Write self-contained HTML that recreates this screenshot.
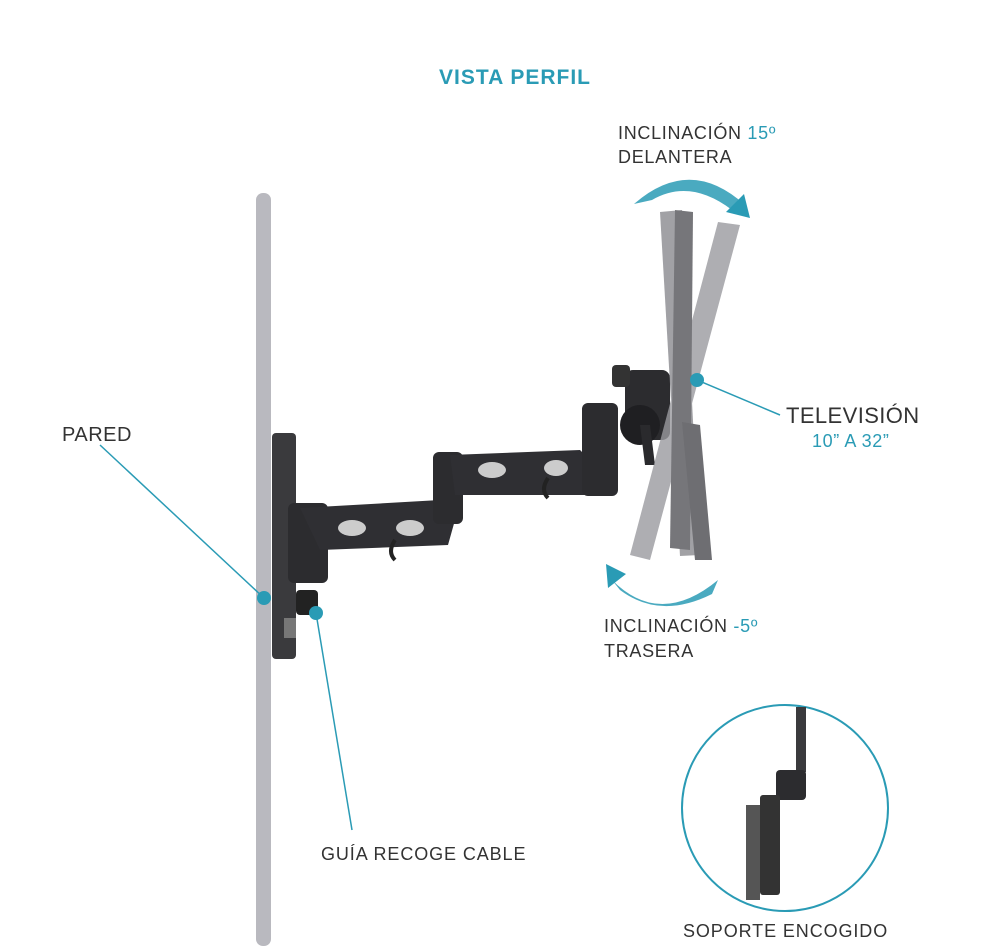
<!DOCTYPE html><html><head><style>
html,body{margin:0;padding:0;background:#fff;}
svg{display:block}
text{font-family:"Liberation Sans",sans-serif;}
</style></head><body>
<svg width="1000" height="952" viewBox="0 0 1000 952" xmlns="http://www.w3.org/2000/svg">
<text x="515" y="84" text-anchor="middle" font-size="21" font-weight="bold" letter-spacing="1" fill="#2a9bb5">VISTA PERFIL</text>
<rect x="256" y="193" width="15" height="753" rx="7" fill="#b9b9bf"/>
<rect x="272" y="433" width="24" height="226" rx="4" fill="#3a3a3d"/>
<rect x="284" y="618" width="12" height="20" fill="#777"/>
<rect x="288" y="503" width="40" height="80" rx="6" fill="#2c2c2f"/>
<rect x="296" y="590" width="22" height="25" rx="4" fill="#222"/>
<path d="M300 508 L440 500 L455 520 L448 545 L320 550 Z" fill="#2f2f33"/>
<ellipse cx="352" cy="528" rx="14" ry="8" fill="#ccc"/>
<ellipse cx="410" cy="528" rx="14" ry="8" fill="#ccc"/>
<rect x="433" y="452" width="30" height="72" rx="6" fill="#2c2c2f"/>
<path d="M450 455 L580 450 L600 470 L590 495 L455 495 Z" fill="#2f2f33"/>
<ellipse cx="492" cy="470" rx="14" ry="8" fill="#ccc"/>
<ellipse cx="556" cy="468" rx="12" ry="8" fill="#ccc"/>
<rect x="582" y="403" width="36" height="93" rx="6" fill="#2c2c2f"/>
<path d="M395 540 q-8 12 0 20" stroke="#222" stroke-width="4" fill="none"/>
<path d="M548 478 q-8 12 0 20" stroke="#222" stroke-width="4" fill="none"/>
<rect x="625" y="370" width="45" height="70" rx="8" fill="#2c2c2f"/>
<rect x="612" y="365" width="18" height="22" rx="4" fill="#333"/>
<circle cx="640" cy="425" r="20" fill="#1f1f22"/>
<path d="M640 425 l5 40 l10 0 l-5 -40z" fill="#2a2a2d"/>
<g opacity="0.8">
<path d="M660 212 L682 210 L700 555 L680 556 Z" fill="#8a8a8f"/>
<path d="M718 222 L740 225 L650 560 L630 555 Z" fill="#9a9a9f"/>
<path d="M675 210 L693 212 L690 550 L670 548 Z" fill="#55555a"/>
<path d="M682 422 L700 425 L712 560 L695 560 Z" fill="#4a4a4f"/>
</g>
<path d="M634 204 Q690 155 745 205 L732 210 Q690 178 652 200 Z" fill="#2a9bb5" opacity="0.85"/>
<path d="M750 218 L744 194 L726 212 Z" fill="#2a9bb5"/>
<path d="M612 580 Q660 628 718 580 L712 594 Q660 620 620 590 Z" fill="#2a9bb5" opacity="0.85"/>
<path d="M606 564 L608 588 L626 574 Z" fill="#2a9bb5"/>
<line x1="100" y1="445" x2="264" y2="598" stroke="#2a9bb5" stroke-width="1.5"/>
<circle cx="264" cy="598" r="7" fill="#2a9bb5"/>
<line x1="697" y1="380" x2="780" y2="415" stroke="#2a9bb5" stroke-width="1.5"/>
<circle cx="697" cy="380" r="7" fill="#2a9bb5"/>
<line x1="316" y1="613" x2="352" y2="830" stroke="#2a9bb5" stroke-width="1.5"/>
<circle cx="316" cy="613" r="7" fill="#2a9bb5"/>
<text x="62" y="441" font-size="20" letter-spacing="0.5" fill="#333">PARED</text>
<text x="618" y="139" font-size="18" letter-spacing="0.7" fill="#333">INCLINACIÓN <tspan fill="#2a9bb5">15º</tspan></text>
<text x="618" y="163" font-size="18" letter-spacing="0.7" fill="#333">DELANTERA</text>
<text x="786" y="423" font-size="22" letter-spacing="0.4" fill="#333">TELEVISIÓN</text>
<text x="812" y="447" font-size="18" letter-spacing="0.6" fill="#2a9bb5">10” A 32”</text>
<text x="604" y="632" font-size="18" letter-spacing="0.7" fill="#333">INCLINACIÓN <tspan fill="#2a9bb5">-5º</tspan></text>
<text x="604" y="657" font-size="18" letter-spacing="0.7" fill="#333">TRASERA</text>
<text x="321" y="860" font-size="18" letter-spacing="0.9" fill="#333">GUÍA RECOGE CABLE</text>
<text x="683" y="937" font-size="18" letter-spacing="0.9" fill="#333">SOPORTE ENCOGIDO</text>
<circle cx="785" cy="808" r="103" fill="#fff" stroke="#2a9bb5" stroke-width="2"/>
<rect x="796" y="707" width="10" height="65" fill="#3a3a3d"/>
<rect x="776" y="770" width="30" height="30" rx="4" fill="#2c2c2f"/>
<rect x="760" y="795" width="20" height="100" rx="3" fill="#333"/>
<rect x="746" y="805" width="14" height="95" fill="#555"/>
</svg>
</body></html>
